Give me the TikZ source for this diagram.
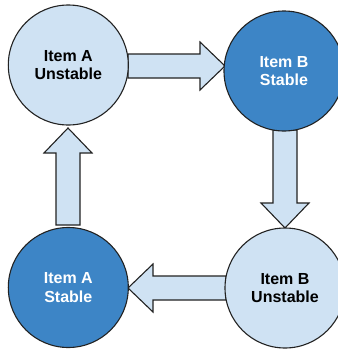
\documentclass[tikz,border=0pt]{standalone}
\usepackage{fontspec}
\setmainfont{Liberation Sans}
\definecolor{lightb}{HTML}{CFE2F3}
\definecolor{darkb}{HTML}{3D85C6}
\definecolor{edge}{HTML}{222222}
\tikzset{
  state/.style={circle, draw=edge, line width=1.1pt, minimum size=120pt, inner sep=0pt,
    align=center, font=\fontsize{16}{18.5}\selectfont\bfseries},
  unstable/.style={state, fill=lightb, text=black},
  stable/.style={state, fill=darkb, text=white},
  blk/.style={draw=edge, line width=1.1pt, fill=lightb, line join=miter},
  pics/barrow/.style={code={
    \draw[blk] (0,0) -- (-25,24) -- (-25,12) -- (-#1,12) -- (-#1,-12) -- (-25,-12) -- (-25,-24) -- cycle;}}
}
\begin{document}
\begin{tikzpicture}[x=1pt,y=1pt]
\useasboundingbox (0,0) rectangle (338,-349);
\fill[white] (0,0) rectangle (338,-349);
% arrow tips
\coordinate (t1) at (225,-66);
\coordinate (t2) at (285,-228);
\coordinate (t3) at (128,-288);
\coordinate (t4) at (68,-128);
\pic[rotate=0] at (t1) {barrow=97};
\pic[rotate=-90] at (t2) {barrow=98};
\pic[rotate=180] at (t3) {barrow=98};
\pic[rotate=90] at (t4) {barrow=97};
% states
\node[unstable] (au) at (68.3,-65) {Item A\\Unstable};
\node[stable] (bs) at (284,-71) {Item B\\Stable};
\node[unstable] (bu) at (285,-288) {Item B\\Unstable};
\node[stable] (as) at (68.3,-287.5) {Item A\\Stable};
\end{tikzpicture}
\end{document}
